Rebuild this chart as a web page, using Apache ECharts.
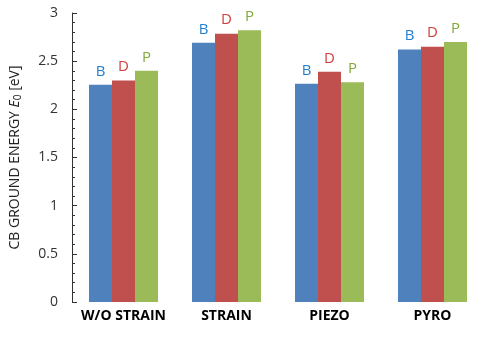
<!DOCTYPE html>
<html>
<head>
<meta charset="utf-8">
<script src="https://cdn.jsdelivr.net/npm/echarts@6/dist/echarts.min.js"></script>
<style>html,body{margin:0;padding:0;background:#fff;}#c{width:491px;height:339px;}</style>
</head>
<body>
<div id="c"></div>
<script>
const categories = ['W/O STRAIN', 'STRAIN', 'PIEZO', 'PYRO'];
const seriesNames = ['B', 'D', 'P'];
const valuesB = [2.255, 2.69, 2.265, 2.62];
const valuesD = [2.30, 2.785, 2.39, 2.65];
const valuesP = [2.40, 2.82, 2.28, 2.70];
const yTicks = [0, 0.5, 1, 1.5, 2, 2.5, 3];

const barColors = ['#4F81BD', '#C0504D', '#9BBB59'];
const labelColors = ['#1F7FCF', '#D0403F', '#7FA838'];
const allValues = [valuesB, valuesD, valuesP];
const font = 'Open Sans';

const chart = echarts.init(document.getElementById('c'), null, {renderer: 'canvas'});
chart.setOption({
  animation: false,
  backgroundColor: '#fff',
  grid: {left: 70, right: 7, top: 13, bottom: 37},
  xAxis: {
    type: 'category',
    data: categories,
    axisLine: {show: false},
    axisTick: {show: false},
    axisLabel: {interval: 0, color: '#000', fontFamily: font, fontWeight: 'bold', fontSize: 14, margin: 7}
  },
  yAxis: {
    type: 'value',
    min: yTicks[0], max: yTicks[yTicks.length - 1], interval: 0.5,
    splitLine: {show: false},
    axisLine: {show: true, lineStyle: {color: '#333', width: 1}},
    axisTick: {show: true, inside: true, length: 5, lineStyle: {color: '#333'}},
    minorTick: {show: true, splitNumber: 5, length: 3, lineStyle: {color: '#333'}},
    axisLabel: {color: '#333', fontFamily: font, fontSize: 14, margin: 14,
      formatter: v => String(v)},
    name: '{t|CB GROUND ENERGY }{i|E}{s|0}{t| [eV]}',
    nameLocation: 'middle',
    nameRotate: 90,
    nameGap: 49,
    nameTextStyle: {
      rich: {
        t: {fontFamily: font, fontSize: 14, color: '#222'},
        i: {fontFamily: font, fontSize: 14, color: '#222', fontStyle: 'italic'},
        s: {fontFamily: font, fontSize: 10, color: '#222', padding: [6, 0, 0, 0]}
      }
    }
  },
  series: seriesNames.map((n, k) => ({
    name: n,
    type: 'bar',
    data: allValues[k],
    barGap: '0%',
    barCategoryGap: '33%',
    itemStyle: {color: barColors[k]},
    label: {show: true, position: 'top', distance: 6, formatter: n,
      color: labelColors[k], fontFamily: font, fontSize: 15}
  }))
});
</script>
</body>
</html>
